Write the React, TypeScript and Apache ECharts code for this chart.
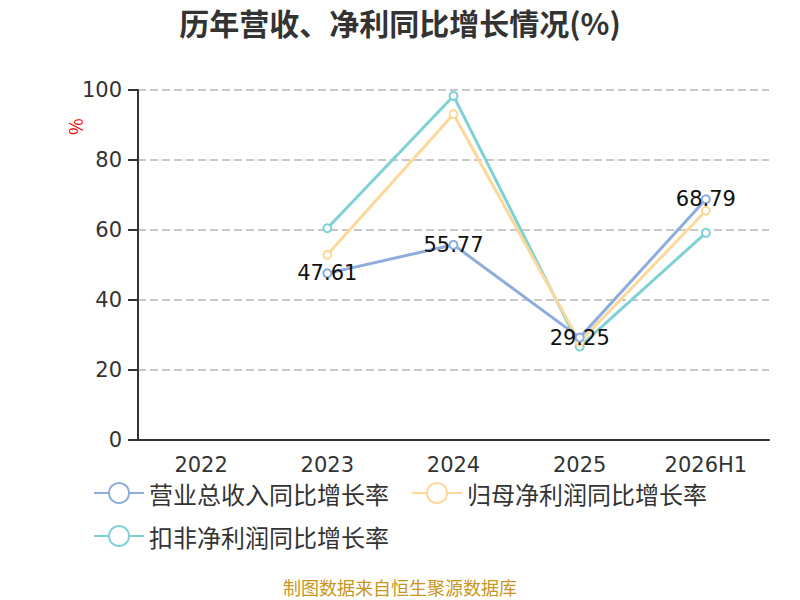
import React, { useEffect, useRef } from 'react';
import * as echarts from 'echarts';

const categories = ['2022', '2023', '2024', '2025', '2026H1'];
const revenueGrowth = [null, 47.61, 55.77, 29.25, 68.79];
const netProfitGrowth = [null, 52.9, 93.1, 28.0, 65.5];
const deductedProfitGrowth = [null, 60.5, 98.3, 26.7, 59.2];
const seriesNames = ['营业总收入同比增长率', '归母净利润同比增长率', '扣非净利润同比增长率'];
const seriesColors = ['#8eaddc', '#fdd89a', '#7fd1d4'];

const App: React.FC = () => {
  const chartRef = useRef<HTMLDivElement>(null);

  useEffect(() => {
    if (!chartRef.current) return;
    const chart = echarts.init(chartRef.current, undefined, { renderer: 'svg' });
    const font = '"Noto Sans CJK SC", "Noto Sans", sans-serif';
    const numFont = '"DejaVu Sans", "Noto Sans CJK SC", sans-serif';
    const values = [revenueGrowth, netProfitGrowth, deductedProfitGrowth];

    const legendBase = {
      itemWidth: 50,
      itemHeight: 25,
      itemGap: 22,
      textStyle: { color: '#333', fontSize: 24, fontFamily: font }
    };

    const option: echarts.EChartsOption = {
      animation: false,
      title: {
        text: '历年营收、净利同比增长情况(%)',
        left: 'center',
        top: 2,
        textStyle: { color: '#333', fontSize: 30, fontWeight: 'bold', fontFamily: font }
      },
      legend: [
        { ...legendBase, data: seriesNames.slice(0, 2), left: 88, top: 476 },
        { ...legendBase, data: seriesNames.slice(2), left: 88, top: 519 }
      ],
      grid: { left: 138, right: 31, top: 90, bottom: 160 },
      xAxis: {
        type: 'category',
        data: categories,
        axisLine: { lineStyle: { color: '#333', width: 2 } },
        axisTick: { length: 10, lineStyle: { color: '#333', width: 2 } },
        axisLabel: { color: '#333', fontSize: 21, margin: 14, fontFamily: numFont }
      },
      yAxis: {
        type: 'value',
        min: 0,
        max: 100,
        interval: 20,
        axisLine: { show: true, lineStyle: { color: '#333', width: 2 } },
        axisTick: { show: true, length: 10, lineStyle: { color: '#333', width: 2 } },
        axisLabel: { color: '#333', fontSize: 21, margin: 16, fontFamily: numFont },
        splitLine: { lineStyle: { color: '#c8c8c8', type: 'dashed', width: 2 } }
      },
      graphic: [
        {
          type: 'text',
          x: 66,
          y: 135,
          rotation: Math.PI / 2,
          style: { text: '%', fill: '#f00', fontSize: 18, fontFamily: font }
        },
        {
          type: 'text',
          x: 400,
          y: 578,
          style: {
            text: '制图数据来自恒生聚源数据库',
            fill: '#c8961e',
            fontSize: 18,
            fontFamily: font,
            align: 'center'
          }
        }
      ],
      series: seriesNames.map((name, i) => ({
        name,
        type: 'line',
        data: values[i],
        symbol: 'emptyCircle',
        symbolSize: 8,
        color: seriesColors[i],
        lineStyle: { width: 3, color: seriesColors[i] },
        itemStyle: { color: seriesColors[i], borderWidth: 2 },
        z: 3 - i,
        label: i === 0
          ? { show: true, position: 'inside', color: '#111', fontSize: 21, fontFamily: numFont }
          : { show: false }
      }))
    };

    chart.setOption(option);
    return () => chart.dispose();
  }, []);

  return (
    <div
      ref={chartRef}
      style={{ position: 'absolute', left: 0, top: 0, width: 800, height: 600 }}
    />
  );
};

export default App;
